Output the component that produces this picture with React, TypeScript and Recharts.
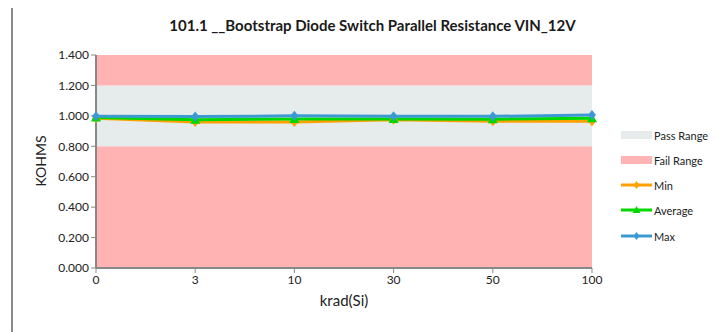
import React from "react";
import { ComposedChart, Area, Line, XAxis, YAxis, Label } from "recharts";

const categories = ["0", "3", "10", "30", "50", "100"];
const minValues = [0.985, 0.96, 0.96, 0.975, 0.965, 0.965];
const avgValues = [0.99, 0.975, 0.98, 0.98, 0.978, 0.985];
const maxValues = [0.998, 0.995, 1.0, 0.997, 0.997, 1.005];
// stacked background bands: fail below, pass window, fail above
const failLow = [0.8, 0.8, 0.8, 0.8, 0.8, 0.8];
const passBand = [0.4, 0.4, 0.4, 0.4, 0.4, 0.4];
const failHigh = [0.2, 0.2, 0.2, 0.2, 0.2, 0.2];
const yTicks = [0, 0.2, 0.4, 0.6, 0.8, 1.0, 1.2, 1.4];

const FONT = "Lato, 'Liberation Sans', sans-serif";
const PINK = "#FFB3B3";
const GREY = "#E6EBEB";
const ORANGE = "#FFA000";
const GREEN = "#00D800";
const BLUE = "#3C9AD2";

const data = categories.map((c, i) => ({
  krad: c,
  failLow: failLow[i],
  pass: passBand[i],
  failHigh: failHigh[i],
  min: minValues[i],
  avg: avgValues[i],
  max: maxValues[i],
}));

const diamond = (color: string) => (props: any) => {
  const { cx, cy, index } = props;
  return (
    <path
      key={index}
      d={`M${cx},${cy - 5}L${cx + 4},${cy}L${cx},${cy + 5}L${cx - 4},${cy}Z`}
      fill={color}
    />
  );
};

const triangle = (color: string) => (props: any) => {
  const { cx, cy, index } = props;
  return (
    <path
      key={index}
      d={`M${cx},${cy - 5}L${cx + 5},${cy + 4}L${cx - 5},${cy + 4}Z`}
      fill={color}
    />
  );
};

const legendItems = [
  { name: "Pass Range", kind: "box", color: GREY },
  { name: "Fail Range", kind: "box", color: PINK },
  { name: "Min", kind: "diamond", color: ORANGE },
  { name: "Average", kind: "triangle", color: GREEN },
  { name: "Max", kind: "diamond", color: BLUE },
];
const legendY = [135, 160, 185, 210, 236];

function LegendSwatch({ kind, color }: { kind: string; color: string }) {
  if (kind === "box") {
    return (
      <svg width={31} height={10}>
        <rect x={0} y={1} width={31} height={8} fill={color} />
      </svg>
    );
  }
  return (
    <svg width={31} height={10}>
      <line x1={0} y1={5} x2={31} y2={5} stroke={color} strokeWidth={3} />
      {kind === "diamond" ? (
        <path d="M15.5,1L18.5,5L15.5,9L12.5,5Z" fill={color} />
      ) : (
        <path d="M15.5,1L19.5,8L11.5,8Z" fill={color} />
      )}
    </svg>
  );
}

export default function App() {
  return (
    <div
      style={{
        position: "relative",
        width: 717,
        height: 332,
        margin: "-8px 0 0 -8px",
        background: "#fff",
        fontFamily: FONT,
        overflow: "hidden",
      }}
    >
      <div
        style={{
          position: "absolute",
          top: 16,
          left: 14,
          width: 717,
          textAlign: "center",
          fontWeight: 700,
          fontSize: 15,
          color: "#1a1a1a",
        }}
      >
        101.1 __Bootstrap Diode Switch Parallel Resistance VIN_12V
      </div>
      <div style={{ position: "absolute", left: 0, top: 0 }}>
        <ComposedChart
          width={717}
          height={332}
          data={data}
          margin={{ top: 55, right: 125, bottom: 34, left: 0 }}
        >
          <XAxis
            dataKey="krad"
            padding={{ left: 0, right: 0 }}
            height={30}
            tick={{ fontSize: 12, fill: "#222", fontFamily: FONT }}
            tickLine={{ stroke: "#888" }}
            axisLine={{ stroke: "#888", strokeWidth: 2 }}
            tickSize={5}
            interval={0}
          >
            <Label
              content={() => (
                <text
                  x={344}
                  y={306}
                  textAnchor="middle"
                  fontSize={15}
                  fill="#222"
                  fontFamily={FONT}
                >
                  krad(Si)
                </text>
              )}
            />
          </XAxis>
          <YAxis
            width={96}
            domain={[0, 1.4]}
            ticks={yTicks}
            interval={0}
            tickFormatter={(v: number) => v.toFixed(3)}
            tick={{ fontSize: 12, fill: "#222", fontFamily: FONT }}
            tickLine={{ stroke: "#888" }}
            axisLine={{ stroke: "#888", strokeWidth: 2 }}
            tickSize={5}
          >
            <Label
              content={() => (
                <text
                  x={46}
                  y={161}
                  transform="rotate(-90 46 161)"
                  textAnchor="middle"
                  fontSize={14}
                  fill="#222"
                  fontFamily={FONT}
                >
                  KOHMS
                </text>
              )}
            />
          </YAxis>
          <Area
            type="linear"
            dataKey="failLow"
            stackId="band"
            fill={PINK}
            fillOpacity={1}
            stroke="none"
            isAnimationActive={false}
          />
          <Area
            type="linear"
            dataKey="pass"
            stackId="band"
            fill={GREY}
            fillOpacity={1}
            stroke="none"
            isAnimationActive={false}
          />
          <Area
            type="linear"
            dataKey="failHigh"
            stackId="band"
            fill={PINK}
            fillOpacity={1}
            stroke="none"
            isAnimationActive={false}
          />
          <Line
            type="linear"
            dataKey="min"
            stroke={ORANGE}
            strokeWidth={3}
            dot={diamond(ORANGE)}
            activeDot={false}
            isAnimationActive={false}
          />
          <Line
            type="linear"
            dataKey="avg"
            stroke={GREEN}
            strokeWidth={3}
            dot={triangle(GREEN)}
            activeDot={false}
            isAnimationActive={false}
          />
          <Line
            type="linear"
            dataKey="max"
            stroke={BLUE}
            strokeWidth={3}
            dot={diamond(BLUE)}
            activeDot={false}
            isAnimationActive={false}
          />
        </ComposedChart>
      </div>
      {legendItems.map((it, i) => (
        <div
          key={it.name}
          style={{
            position: "absolute",
            left: 621,
            top: legendY[i] - 7,
            display: "flex",
            alignItems: "center",
            fontSize: 11,
            color: "#222",
            height: 14,
            whiteSpace: "nowrap",
          }}
        >
          <LegendSwatch kind={it.kind} color={it.color} />
          <span style={{ marginLeft: 2 }}>{it.name}</span>
        </div>
      ))}
      {/* frame lines: top and left edge of the chart area */}
      <div
        style={{
          position: "absolute",
          left: 11,
          top: 3,
          width: 706,
          height: 2,
          background: "#B4B4B4",
        }}
      />
      <div
        style={{
          position: "absolute",
          left: 11,
          top: 3,
          width: 2,
          height: 329,
          background: "#8C8C8C",
        }}
      />
    </div>
  );
}
